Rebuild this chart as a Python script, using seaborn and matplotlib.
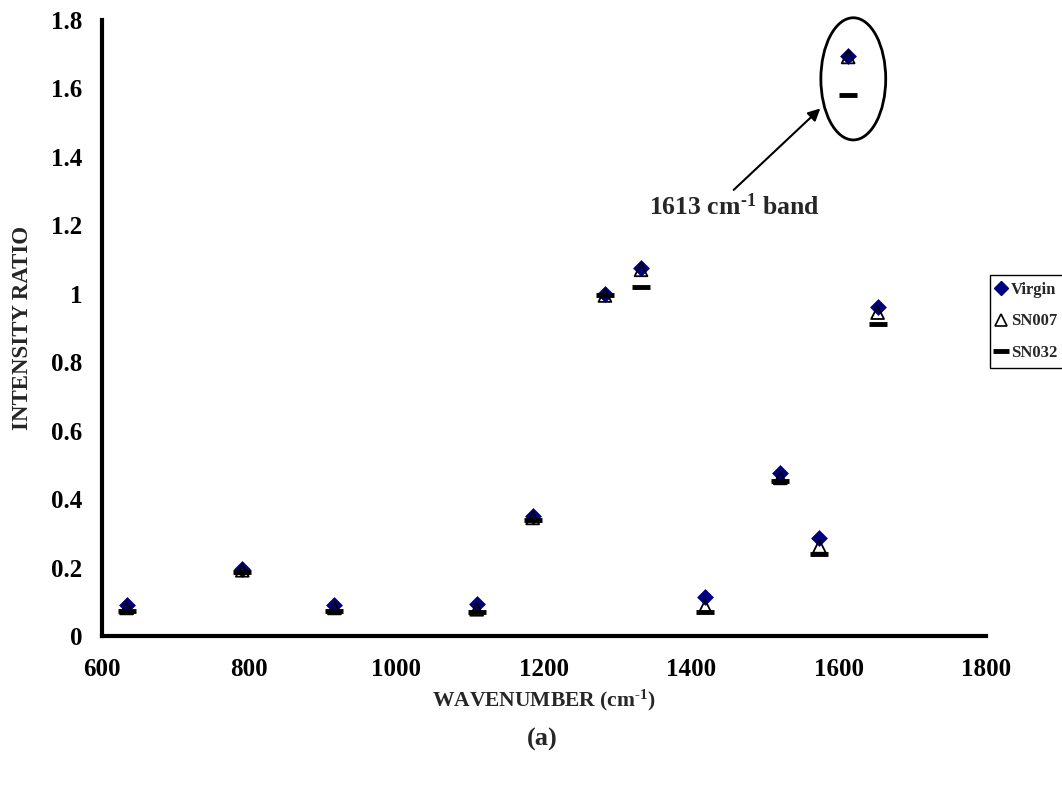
import matplotlib
matplotlib.use("Agg")
import matplotlib.pyplot as plt
import seaborn as sns
import pandas as pd
from matplotlib.patches import Ellipse
from matplotlib.lines import Line2D

# ---- data ----
wavenumber = [634, 791, 916, 1109, 1185, 1283, 1332, 1419, 1521, 1574, 1613, 1653]
virgin = [0.090, 0.195, 0.090, 0.093, 0.352, 1.000, 1.075, 0.113, 0.475, 0.285, 1.695, 0.962]
sn007 = [0.082, 0.192, 0.082, 0.078, 0.345, 0.995, 1.070, 0.086, 0.462, 0.262, 1.692, 0.945]
sn032 = [0.073, 0.188, 0.073, 0.070, 0.338, 0.995, 1.020, 0.070, 0.452, 0.240, 1.580, 0.912]
series_names = ["Virgin", "SN007", "SN032"]
x_ticks = [600, 800, 1000, 1200, 1400, 1600, 1800]
y_ticks = [0, 0.2, 0.4, 0.6, 0.8, 1.0, 1.2, 1.4, 1.6, 1.8]
y_tick_labels = ["0", "0.2", "0.4", "0.6", "0.8", "1", "1.2", "1.4", "1.6", "1.8"]

df = pd.DataFrame({"wn": wavenumber, "Virgin": virgin, "SN007": sn007, "SN032": sn032})

sns.set_theme(style="white")
plt.rcParams["font.family"] = ["Liberation Serif", "DejaVu Serif"]
plt.rcParams["font.weight"] = "bold"
plt.rcParams["mathtext.fontset"] = "custom"
plt.rcParams["mathtext.rm"] = "Liberation Serif:bold"
plt.rcParams["mathtext.it"] = "Liberation Serif:bold"
plt.rcParams["mathtext.bf"] = "Liberation Serif:bold"

fig = plt.figure(figsize=(10.62, 7.87), dpi=100)
ax = fig.add_axes([0.0956, 0.1919, 0.8328, 0.7827])

navy = "#000080"
sns.scatterplot(data=df, x="wn", y="Virgin", marker="D", s=65, color=navy,
                edgecolor=navy, linewidth=0.5, ax=ax, zorder=3)
sns.scatterplot(data=df, x="wn", y="SN007", marker="^", s=85, facecolor="none",
                edgecolor="black", linewidth=1.3, ax=ax, zorder=4)
sns.scatterplot(data=df, x="wn", y="SN032", marker="_", s=160, color="black",
                linewidth=3.5, ax=ax, zorder=5)

ax.set_xlim(600, 1800)
ax.set_ylim(0, 1.8)
ax.set_xticks(x_ticks)
ax.set_xticklabels([str(t) for t in x_ticks])
ax.set_yticks(y_ticks)
ax.set_yticklabels(y_tick_labels)
for s in ["top", "right"]:
    ax.spines[s].set_visible(False)
for s in ["left", "bottom"]:
    ax.spines[s].set_linewidth(3)
    ax.spines[s].set_color("black")
ax.tick_params(direction="in", length=8, width=3, labelsize=18, colors="black")
ax.tick_params(axis="y", pad=14)
ax.tick_params(axis="x", pad=16)
for lab in ax.get_xticklabels() + ax.get_yticklabels():
    lab.set_fontweight("bold")

ax.set_xlabel(r"WAVENUMBER (cm$^{\text{-1}}$)", fontsize=15.5, fontweight="bold", labelpad=5)
ax.set_ylabel("INTENSITY RATIO", fontsize=16.5, fontweight="bold", labelpad=13)
fig.text(0.5105, 0.06, "(a)", ha="center", va="center", fontsize=19, fontweight="bold")

# annotation
ell = Ellipse((1620, 1.628), width=88, height=0.357, fill=False, edgecolor="black",
              linewidth=2, zorder=2, clip_on=False)
ax.add_patch(ell)
ax.annotate("", xy=(1578, 1.547), xytext=(1455, 1.298),
            arrowprops=dict(arrowstyle="-|>", color="black", lw=1.5, mutation_scale=18))
ax.text(1459, 1.255, r"1613 cm$^{\text{-1}}$ band", ha="center", va="center",
        fontsize=18.5, fontweight="bold")

handles = [
    Line2D([], [], marker="D", linestyle="none", color=navy, markersize=7),
    Line2D([], [], marker="^", linestyle="none", markerfacecolor="none", markeredgecolor="black",
           markersize=9, markeredgewidth=1.2),
    Line2D([], [], marker="_", linestyle="none", color="black", markersize=11, markeredgewidth=3.5),
]
leg = fig.legend(handles, series_names, loc="upper left", bbox_to_anchor=(0.932, 0.6506),
                 frameon=True, fancybox=False, edgecolor="black", framealpha=1,
                 prop={"family": "Liberation Serif", "weight": "bold", "size": 12},
                 handlelength=0.6, handletextpad=0.25, borderpad=0.4, labelspacing=0.95,
                 borderaxespad=0)
leg.get_frame().set_linewidth(1.0)

fig.savefig("out.png", dpi=100, facecolor="white")
